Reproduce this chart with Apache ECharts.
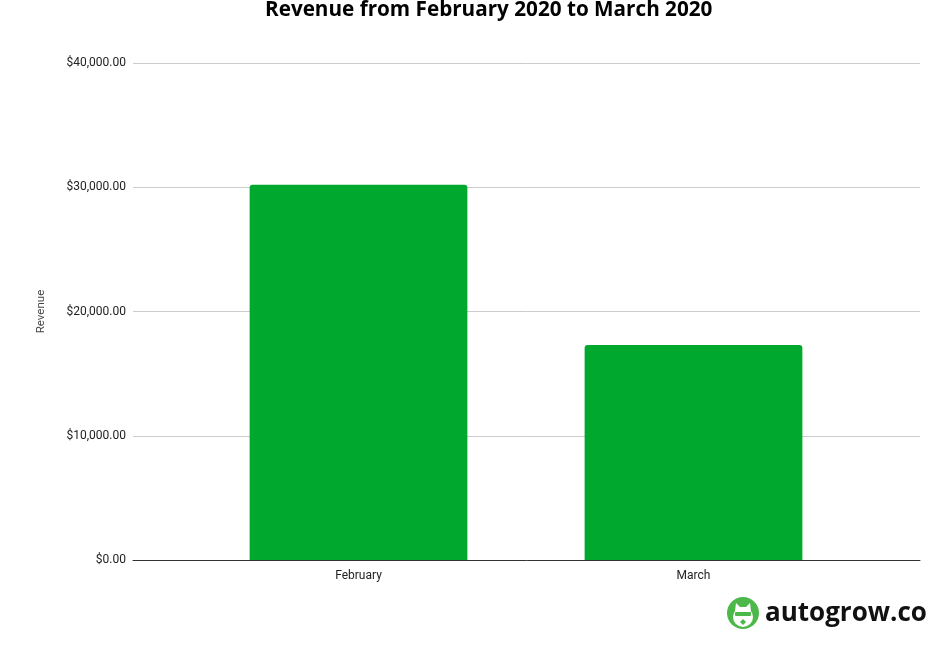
<!DOCTYPE html>
<html><head><meta charset="utf-8">
<script src="https://cdn.jsdelivr.net/npm/echarts@6/dist/echarts.min.js"></script>
<style>html,body{margin:0;padding:0;background:#fff}#c{width:950px;height:652px}</style>
</head><body><div id="c"></div>
<script>
var categories = ['February', 'March'];
var revenue = [30200, 17300];
var yTicks = [0, 10000, 20000, 30000, 40000];
var titleText = 'Revenue from February 2020 to March 2020';

var chart = echarts.init(document.getElementById('c'));
function fmt(v){ return '$' + v.toLocaleString('en-US',{minimumFractionDigits:2,maximumFractionDigits:2}); }
var yMin = yTicks[0], yMax = yTicks[yTicks.length-1], yInt = yTicks[1]-yTicks[0];
chart.setOption({
  animation:false,
  title:{text:titleText,left:260,top:-5,textStyle:{fontFamily:'Open Sans',fontWeight:'bold',fontSize:20.7,color:'#000'}},
  grid:[
    {left:133,right:30,top:63,bottom:92},
    {left:191,right:89,top:63,bottom:92}
  ],
  xAxis:[
    {gridIndex:0,type:'value',show:true,min:0,max:1,axisLabel:{show:false},axisTick:{show:false},splitLine:{show:false},axisLine:{show:true,onZero:false,lineStyle:{color:'#333',width:1}}},
    {gridIndex:1,type:'category',data:categories,axisLine:{show:false},axisTick:{show:false},axisLabel:{fontFamily:'Roboto',fontSize:12,color:'#222',margin:10}}
  ],
  yAxis:[
    {gridIndex:0,type:'value',min:yMin,max:yMax,interval:yInt,name:'Revenue',nameLocation:'middle',nameGap:86,nameTextStyle:{fontFamily:'Roboto',fontSize:11.5,color:'#444'},
     axisLine:{show:false},axisTick:{show:false},axisLabel:{fontFamily:'Roboto',fontSize:12,color:'#222',margin:7,formatter:fmt},
     splitLine:{lineStyle:{color:'#cccccc'}}},
    {gridIndex:1,type:'value',min:yMin,max:yMax,interval:yInt,show:false,splitLine:{show:false}}
  ],
  series:[{type:'bar',xAxisIndex:1,yAxisIndex:1,data:revenue,barWidth:'65%',itemStyle:{color:'#00a82d',borderRadius:[3,3,0,0]}}],
  graphic:[
    {type:'circle',shape:{cx:743,cy:613,r:16},style:{fill:'#4cb849'}},
    {type:'circle',shape:{cx:743,cy:617,r:10},style:{fill:'#fff'}},
    {type:'polygon',shape:{points:[[735,611],[736,603],[740,607],[746,607],[750,603],[751,611]]},style:{fill:'#fff'}},
    {type:'rect',shape:{x:735,y:612,width:16,height:4,r:1},style:{fill:'#4cb849'}},
    {type:'polygon',shape:{points:[[740,622],[743,619],[746,622],[743,625]]},style:{fill:'#4cb849'}},
    {type:'text',left:765,top:601,style:{text:'autogrow.co',font:'bold 26px "Open Sans"',fill:'#111'}}
  ]
});
</script></body></html>
